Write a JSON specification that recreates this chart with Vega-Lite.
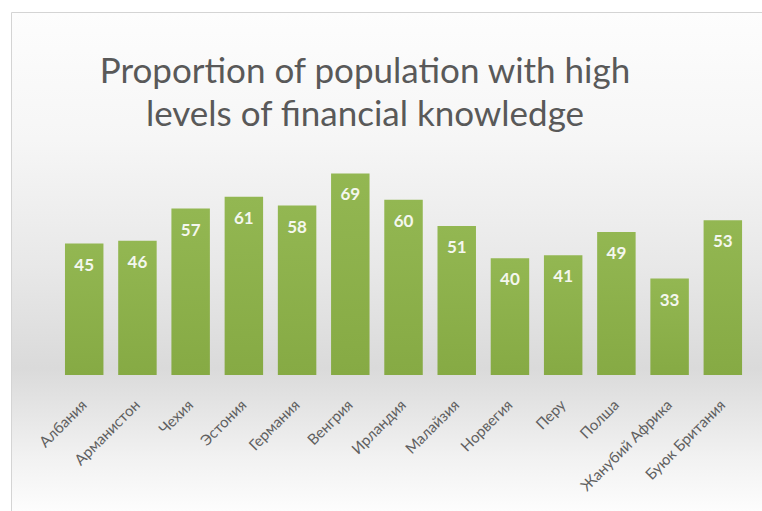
{
  "$schema": "https://vega.github.io/schema/vega-lite/v6.json",
  "autosize": {"type": "none"},
  "width": 760,
  "height": 508,
  "padding": {"left": 11, "top": 12, "right": 0, "bottom": 0},
  "background": "#ffffff",
  "config": {
    "view": {
      "stroke": "#d4d4d4",
      "strokeWidth": 1,
      "fill": {
        "gradient": "linear",
        "x1": 0, "y1": 0, "x2": 0, "y2": 1,
        "stops": [
          {"offset": 0, "color": "#fdfdfd"},
          {"offset": 0.25, "color": "#f6f6f6"},
          {"offset": 0.5, "color": "#e8e8e8"},
          {"offset": 0.7, "color": "#dadada"},
          {"offset": 0.88, "color": "#f2f2f2"},
          {"offset": 1, "color": "#ffffff"}
        ]
      }
    }
  },
  "title": {
    "text": ["Proportion of population with high", "levels of financial knowledge"],
    "font": "Lato",
    "fontSize": 35,
    "fontWeight": "normal",
    "color": "#595959",
    "anchor": "middle",
    "frame": "group",
    "baseline": "alphabetic",
    "offset": 0,
    "dy": 149,
    "dx": -26,
    "lineHeight": 43
  },
  "data": {
    "values": [
      {"country": "Албания", "value": 45},
      {"country": "Арманистон", "value": 46},
      {"country": "Чехия", "value": 57},
      {"country": "Эстония", "value": 61},
      {"country": "Германия", "value": 58},
      {"country": "Венгрия", "value": 69},
      {"country": "Ирландия", "value": 60},
      {"country": "Малайзия", "value": 51},
      {"country": "Норвегия", "value": 40},
      {"country": "Перу", "value": 41},
      {"country": "Полша", "value": 49},
      {"country": "Жанубий Африка", "value": 33},
      {"country": "Буюк Британия", "value": 53}
    ]
  },
  "encoding": {
    "x": {
      "field": "country",
      "type": "nominal",
      "sort": null,
      "scale": {"paddingInner": 0.277, "paddingOuter": 0.779, "align": 0.651},
      "axis": {
        "title": null,
        "orient": "bottom",
        "offset": -145,
        "domain": false,
        "ticks": false,
        "grid": false,
        "labelAngle": -45,
        "labelAlign": "right",
        "labelBaseline": "middle",
        "labelPadding": 27,
        "labelFont": "Lato",
        "labelFontSize": 15,
        "labelColor": "#606060"
      }
    },
    "y": {
      "field": "value",
      "type": "quantitative",
      "scale": {"domain": [-49.66, 124.3], "nice": false, "zero": false},
      "axis": null
    }
  },
  "layer": [
    {
      "mark": {
        "type": "bar",
        "color": {
          "gradient": "linear",
          "x1": 0, "y1": 0, "x2": 0, "y2": 1,
          "stops": [
            {"offset": 0, "color": "#93b752"},
            {"offset": 1, "color": "#86aa44"}
          ]
        }
      },
      "encoding": {"y2": {"datum": 0}}
    },
    {
      "mark": {
        "type": "text",
        "font": "Lato",
        "fontSize": 17,
        "fontWeight": "bold",
        "color": "#f4f7ee",
        "baseline": "middle",
        "align": "center",
        "dy": 22
      },
      "encoding": {"text": {"field": "value", "type": "quantitative"}}
    }
  ]
}
